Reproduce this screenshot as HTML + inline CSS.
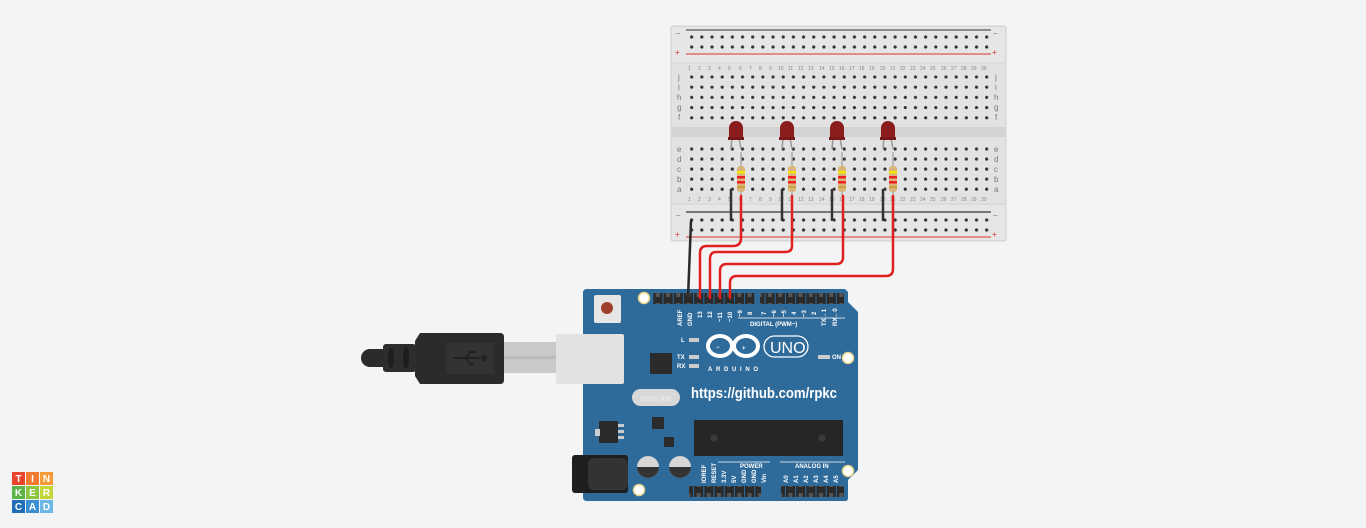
<!DOCTYPE html>
<html><head><meta charset="utf-8"><style>
html,body{margin:0;padding:0;background:#f3f4f6;width:1366px;height:528px;overflow:hidden}
svg{display:block}
.n{font:5px "Liberation Sans",sans-serif;fill:#888}
.l{font:8px "Liberation Sans",sans-serif;fill:#777}
.w{font:bold 6px "Liberation Sans",sans-serif;fill:#fff}
</style></head><body>
<svg width="1366" height="528" viewBox="0 0 1366 528" xmlns="http://www.w3.org/2000/svg">
<defs>
<pattern id="h" x="686.6" y="72" width="10.172" height="10.2" patternUnits="userSpaceOnUse">
<rect x="1.5" y="1.5" width="7" height="7" fill="#e4e4e4"/><circle cx="5.08" cy="5" r="1.6" fill="#333"/></pattern>
<pattern id="hb" x="686.6" y="144" width="10.172" height="10.05" patternUnits="userSpaceOnUse">
<rect x="1.5" y="1.5" width="7" height="7" fill="#e4e4e4"/><circle cx="5.08" cy="5" r="1.6" fill="#333"/></pattern>
<pattern id="hr" x="686.6" y="32" width="10.172" height="10" patternUnits="userSpaceOnUse">
<circle cx="5.08" cy="5" r="1.6" fill="#333"/></pattern>
<pattern id="hr2" x="686.6" y="215" width="10.172" height="10" patternUnits="userSpaceOnUse">
<circle cx="5.08" cy="5" r="1.6" fill="#333"/></pattern>
<pattern id="pin" x="0" y="0" width="10.2" height="10" patternUnits="userSpaceOnUse">
<rect x="0.5" y="0" width="9.2" height="10" fill="#2a2a2a"/><rect x="3" y="3" width="4" height="4" fill="#555"/></pattern>
</defs>

<!-- Breadboard -->
<rect x="671" y="26" width="335" height="215" rx="2" fill="#e2e2e2" stroke="#cfcfcf"/>
<rect x="672" y="27" width="333" height="36" fill="#e6e6e6"/>
<rect x="672" y="205" width="333" height="35" fill="#e6e6e6"/>
<line x1="672" y1="63" x2="1005" y2="63" stroke="#d4d4d4"/>
<line x1="672" y1="204" x2="1005" y2="204" stroke="#d4d4d4"/>
<rect x="672" y="127" width="333" height="10" fill="#d3d3d3"/>
<line x1="686" y1="30" x2="991" y2="30" stroke="#333" stroke-width="1"/>
<line x1="686" y1="54" x2="991" y2="54" stroke="#d33" stroke-width="1"/>
<line x1="686" y1="212" x2="991" y2="212" stroke="#777" stroke-width="2"/>
<line x1="686" y1="237" x2="991" y2="237" stroke="#d33" stroke-width="1"/>
<rect x="686.6" y="32" width="305" height="20" fill="url(#hr)"/>
<rect x="686.6" y="215" width="305" height="20" fill="url(#hr2)"/>
<rect x="686.6" y="72" width="305.2" height="51" fill="url(#h)"/>
<rect x="686.6" y="144" width="305.2" height="50.2" fill="url(#hb)"/>
<text x="676" y="36" class="l">−</text><text x="993" y="36" class="l">−</text>
<text x="675" y="55" class="l" style="fill:#c33">+</text><text x="992" y="55" class="l" style="fill:#c33">+</text>
<text x="676" y="218" class="l">−</text><text x="993" y="218" class="l">−</text>
<text x="675" y="237" class="l" style="fill:#c33">+</text><text x="992" y="237" class="l" style="fill:#c33">+</text>
<g class="l" font-size="7">
<text x="678" y="80">j</text><text x="678" y="90">i</text><text x="677" y="100">h</text><text x="677" y="110">g</text><text x="678" y="120">f</text>
<text x="677" y="152">e</text><text x="677" y="162">d</text><text x="677" y="172">c</text><text x="677" y="182">b</text><text x="677" y="192">a</text>
<text x="995" y="80">j</text><text x="995" y="90">i</text><text x="994" y="100">h</text><text x="994" y="110">g</text><text x="995" y="120">f</text>
<text x="994" y="152">e</text><text x="994" y="162">d</text><text x="994" y="172">c</text><text x="994" y="182">b</text><text x="994" y="192">a</text>
</g>
<g class="n">
<text x="688" y="70">1</text><text x="698" y="70">2</text><text x="708" y="70">3</text><text x="718" y="70">4</text><text x="728" y="70">5</text><text x="739" y="70">6</text><text x="749" y="70">7</text><text x="759" y="70">8</text><text x="769" y="70">9</text><text x="778" y="70">10</text><text x="788" y="70">11</text><text x="798" y="70">12</text><text x="808" y="70">13</text><text x="819" y="70">14</text><text x="829" y="70">15</text><text x="839" y="70">16</text><text x="849" y="70">17</text><text x="859" y="70">18</text><text x="869" y="70">19</text><text x="880" y="70">20</text><text x="890" y="70">21</text><text x="900" y="70">22</text><text x="910" y="70">23</text><text x="920" y="70">24</text><text x="930" y="70">25</text><text x="941" y="70">26</text><text x="951" y="70">27</text><text x="961" y="70">28</text><text x="971" y="70">29</text><text x="981" y="70">30</text>
<text x="688" y="201">1</text><text x="698" y="201">2</text><text x="708" y="201">3</text><text x="718" y="201">4</text><text x="728" y="201">5</text><text x="739" y="201">6</text><text x="749" y="201">7</text><text x="759" y="201">8</text><text x="769" y="201">9</text><text x="778" y="201">10</text><text x="788" y="201">11</text><text x="798" y="201">12</text><text x="808" y="201">13</text><text x="819" y="201">14</text><text x="829" y="201">15</text><text x="839" y="201">16</text><text x="849" y="201">17</text><text x="859" y="201">18</text><text x="869" y="201">19</text><text x="880" y="201">20</text><text x="890" y="201">21</text><text x="900" y="201">22</text><text x="910" y="201">23</text><text x="920" y="201">24</text><text x="930" y="201">25</text><text x="941" y="201">26</text><text x="951" y="201">27</text><text x="961" y="201">28</text><text x="971" y="201">29</text><text x="981" y="201">30</text>
</g>

<!-- LEDs, resistors, jumpers -->
<g id="leds">
<g transform="translate(0,0)">
<line x1="732" y1="138" x2="731" y2="149" stroke="#999" stroke-width="1.5"/><line x1="739" y1="138" x2="741" y2="149" stroke="#999" stroke-width="1.5"/>
<path d="M729,140 L729,128 A7,7 0 0 1 743,128 L743,140 Z" fill="#8b1d1d"/><rect x="728" y="137" width="16" height="3" fill="#7a1818"/>
<line x1="741" y1="152" x2="741" y2="196" stroke="#aaa" stroke-width="1.5"/>
<rect x="737" y="166" width="8" height="26" rx="3" fill="#d9b57a"/>
<rect x="737" y="171" width="8" height="2.5" fill="#f5e600"/><rect x="737" y="176" width="8" height="2.5" fill="#e22"/><rect x="737" y="181" width="8" height="2.5" fill="#e22"/><rect x="737" y="186" width="8" height="2" fill="#c8a040"/>
<line x1="731" y1="189" x2="731" y2="221" stroke="#333" stroke-width="2.5"/>
</g>
<g transform="translate(51,0)">
<line x1="732" y1="138" x2="731" y2="149" stroke="#999" stroke-width="1.5"/><line x1="739" y1="138" x2="741" y2="149" stroke="#999" stroke-width="1.5"/>
<path d="M729,140 L729,128 A7,7 0 0 1 743,128 L743,140 Z" fill="#8b1d1d"/><rect x="728" y="137" width="16" height="3" fill="#7a1818"/>
<line x1="741" y1="152" x2="741" y2="196" stroke="#aaa" stroke-width="1.5"/>
<rect x="737" y="166" width="8" height="26" rx="3" fill="#d9b57a"/>
<rect x="737" y="171" width="8" height="2.5" fill="#f5e600"/><rect x="737" y="176" width="8" height="2.5" fill="#e22"/><rect x="737" y="181" width="8" height="2.5" fill="#e22"/><rect x="737" y="186" width="8" height="2" fill="#c8a040"/>
<line x1="731" y1="189" x2="731" y2="221" stroke="#333" stroke-width="2.5"/>
</g>
<g transform="translate(101,0)">
<line x1="732" y1="138" x2="731" y2="149" stroke="#999" stroke-width="1.5"/><line x1="739" y1="138" x2="741" y2="149" stroke="#999" stroke-width="1.5"/>
<path d="M729,140 L729,128 A7,7 0 0 1 743,128 L743,140 Z" fill="#8b1d1d"/><rect x="728" y="137" width="16" height="3" fill="#7a1818"/>
<line x1="741" y1="152" x2="741" y2="196" stroke="#aaa" stroke-width="1.5"/>
<rect x="737" y="166" width="8" height="26" rx="3" fill="#d9b57a"/>
<rect x="737" y="171" width="8" height="2.5" fill="#f5e600"/><rect x="737" y="176" width="8" height="2.5" fill="#e22"/><rect x="737" y="181" width="8" height="2.5" fill="#e22"/><rect x="737" y="186" width="8" height="2" fill="#c8a040"/>
<line x1="731" y1="189" x2="731" y2="221" stroke="#333" stroke-width="2.5"/>
</g>
<g transform="translate(152,0)">
<line x1="732" y1="138" x2="731" y2="149" stroke="#999" stroke-width="1.5"/><line x1="739" y1="138" x2="741" y2="149" stroke="#999" stroke-width="1.5"/>
<path d="M729,140 L729,128 A7,7 0 0 1 743,128 L743,140 Z" fill="#8b1d1d"/><rect x="728" y="137" width="16" height="3" fill="#7a1818"/>
<line x1="741" y1="152" x2="741" y2="196" stroke="#aaa" stroke-width="1.5"/>
<rect x="737" y="166" width="8" height="26" rx="3" fill="#d9b57a"/>
<rect x="737" y="171" width="8" height="2.5" fill="#f5e600"/><rect x="737" y="176" width="8" height="2.5" fill="#e22"/><rect x="737" y="181" width="8" height="2.5" fill="#e22"/><rect x="737" y="186" width="8" height="2" fill="#c8a040"/>
<line x1="731" y1="189" x2="731" y2="221" stroke="#333" stroke-width="2.5"/>
</g>
</g>

<!-- Arduino board -->
<path d="M587,289 L845,289 L848,292 L848,302 L858,312 L858,470 L848,480 L848,498 Q848,501 845,501 L587,501 Q583,501 583,497 L583,293 Q583,289 587,289 Z" fill="#2e6a9a"/>
<rect x="653" y="293" width="102" height="11" fill="url(#pin)"/>
<rect x="760" y="293" width="84" height="11" fill="url(#pin)"/>
<rect x="689" y="486" width="72" height="11" fill="url(#pin)"/>
<rect x="781" y="486" width="63" height="11" fill="url(#pin)"/>
<circle cx="644" cy="298" r="5.5" fill="#fff" stroke="#e8d68a" stroke-width="1.5"/>
<circle cx="848" cy="358" r="5.5" fill="#fff" stroke="#e8d68a" stroke-width="1.5"/>
<circle cx="848" cy="471" r="5.5" fill="#fff" stroke="#e8d68a" stroke-width="1.5"/>
<circle cx="639" cy="490" r="5.5" fill="#fff" stroke="#e8d68a" stroke-width="1.5"/>
<rect x="594" y="295" width="27" height="28" rx="2" fill="#e6e6e6"/><circle cx="607" cy="308" r="6" fill="#a0402c"/>
<rect x="650" y="353" width="22" height="21" fill="#2b2b2b"/>
<rect x="652" y="417" width="12" height="12" fill="#2b2b2b"/>
<rect x="664" y="437" width="10" height="10" fill="#2b2b2b"/>
<rect x="599" y="421" width="19" height="22" fill="#2b2b2b"/><rect x="618" y="424" width="6" height="3" fill="#ccc"/><rect x="618" y="430" width="6" height="3" fill="#ccc"/><rect x="618" y="436" width="6" height="3" fill="#ccc"/><rect x="595" y="429" width="5" height="7" fill="#ccc"/>
<rect x="632" y="389" width="48" height="17" rx="8.5" fill="#d8d8d8"/><text x="640" y="401" style="font:7px 'Liberation Sans',sans-serif;fill:#eee">SP16.000</text>
<rect x="694" y="420" width="149" height="36" fill="#262626"/>
<circle cx="714" cy="438" r="3.5" fill="#3a3a3a"/><circle cx="822" cy="438" r="3.5" fill="#3a3a3a"/>
<rect x="572" y="455" width="56" height="38" rx="3" fill="#1e1e1e"/><rect x="588" y="458" width="40" height="32" rx="6" fill="#333"/>
<circle cx="648" cy="467" r="11" fill="#d7d7d7"/><path d="M637,467 A11,11 0 0 0 659,467 Z" fill="#333"/>
<circle cx="680" cy="467" r="11" fill="#d7d7d7"/><path d="M669,467 A11,11 0 0 0 691,467 Z" fill="#333"/>
<rect x="689" y="338" width="10" height="4" fill="#ccc"/><rect x="689" y="355" width="10" height="4" fill="#ccc"/><rect x="689" y="364" width="10" height="4" fill="#ccc"/>
<rect x="818" y="355" width="12" height="4" fill="#ccc"/>
<text x="681" y="342" class="w" font-size="5">L</text><text x="677" y="359" class="w" font-size="5">TX</text><text x="677" y="368" class="w" font-size="5">RX</text><text x="832" y="359" class="w" font-size="5">ON</text>
<!-- Arduino logo -->
<ellipse cx="720" cy="346" rx="12" ry="10" fill="none" stroke="#fff" stroke-width="4"/>
<ellipse cx="746" cy="346" rx="12" ry="10" fill="none" stroke="#fff" stroke-width="4"/>
<text x="716" y="349" class="w" font-size="9">−</text><text x="742" y="350" class="w" font-size="10">+</text>
<text x="708" y="371" class="w" font-size="8" textLength="50">ARDUINO</text>
<rect x="764" y="336" width="44" height="21" rx="10.5" fill="none" stroke="#fff" stroke-width="1.3"/>
<text x="770" y="353" style="font:16px 'Liberation Sans',sans-serif;fill:#fff">UNO</text>
<text x="691" y="398" textLength="146" lengthAdjust="spacingAndGlyphs" style="font:bold 15px 'Liberation Sans',sans-serif;fill:#fff">https://github.com/rpkc</text>
<text x="750" y="326" class="w" font-size="7">DIGITAL (PWM~)</text>
<line x1="738" y1="318" x2="845" y2="318" stroke="#fff" stroke-width="0.8"/>
<text x="740" y="468" class="w" font-size="7">POWER</text><text x="795" y="468" class="w" font-size="7">ANALOG IN</text>
<line x1="718" y1="462" x2="770" y2="462" stroke="#fff" stroke-width="0.8"/><line x1="780" y1="462" x2="845" y2="462" stroke="#fff" stroke-width="0.8"/>
<g class="w" font-size="5.5">
<text transform="translate(682,326) rotate(-90)">AREF</text><text transform="translate(692,326) rotate(-90)">GND</text>
<text transform="translate(702,318) rotate(-90)">13</text><text transform="translate(712,318) rotate(-90)">12</text>
<text transform="translate(722,322) rotate(-90)">~11</text><text transform="translate(732,322) rotate(-90)">~10</text>
<text transform="translate(742,317) rotate(-90)">~9</text><text transform="translate(752,315) rotate(-90)">8</text>
<text transform="translate(766,315) rotate(-90)">7</text><text transform="translate(776,317) rotate(-90)">~6</text><text transform="translate(786,317) rotate(-90)">~5</text><text transform="translate(796,315) rotate(-90)">4</text><text transform="translate(806,317) rotate(-90)">~3</text><text transform="translate(816,315) rotate(-90)">2</text><text transform="translate(826,326) rotate(-90)">TX→1</text><text transform="translate(837,326) rotate(-90)">RX←0</text>
<text transform="translate(706,483) rotate(-90)">IOREF</text><text transform="translate(716,483) rotate(-90)">RESET</text><text transform="translate(726,483) rotate(-90)">3.3V</text><text transform="translate(736,483) rotate(-90)">5V</text><text transform="translate(746,483) rotate(-90)">GND</text><text transform="translate(756,483) rotate(-90)">GND</text><text transform="translate(766,483) rotate(-90)">Vin</text>
<text transform="translate(788,483) rotate(-90)">A0</text><text transform="translate(798,483) rotate(-90)">A1</text><text transform="translate(808,483) rotate(-90)">A2</text><text transform="translate(818,483) rotate(-90)">A3</text><text transform="translate(828,483) rotate(-90)">A4</text><text transform="translate(838,483) rotate(-90)">A5</text>
</g>

<!-- USB port and cable -->
<rect x="556" y="334" width="68" height="50" rx="2" fill="#e2e2e2"/>
<rect x="504" y="342" width="52" height="31" fill="#c9c9c9"/>
<rect x="504" y="356" width="52" height="3" fill="#bbb"/>
<path d="M415,341 L420,333 L500,333 Q504,333 504,337 L504,380 Q504,384 500,384 L420,384 L415,376 Z" fill="#2b2b2b"/>
<rect x="446" y="343" width="48" height="31" fill="#333"/>
<path d="M453,358 L480,358 M466,358 L470,352 L476,352 M466,358 L470,364 L474,364" stroke="#222" stroke-width="2" fill="none"/><circle cx="484" cy="358" r="3" fill="#222"/>
<rect x="383" y="344" width="33" height="28" rx="3" fill="#2d2d2d"/>
<ellipse cx="391" cy="358" rx="3" ry="10" fill="#1e1e1e"/><ellipse cx="406" cy="358" rx="3" ry="11" fill="#1e1e1e"/>
<path d="M384,349 L370,349 A9,9 0 0 0 370,367 L384,367 Z" fill="#2b2b2b"/>

<!-- Wires -->
<g fill="none" stroke-linecap="round">
<path d="M691,221 L688,298" stroke="#2a2a2a" stroke-width="2.5"/>
<path d="M741,196 L741,238 Q741,246 733,246 L707,246 Q700,246 700,253 L700,298" stroke="#e0201e" stroke-width="2.5"/>
<path d="M792,196 L792,246 Q792,252 785,252 L716,252 Q710,252 710,259 L710,298" stroke="#e0201e" stroke-width="2.5"/>
<path d="M843,196 L843,257 Q843,264 836,264 L727,264 Q720,264 720,271 L720,298" stroke="#e0201e" stroke-width="2.5"/>
<path d="M893,196 L893,269 Q893,276 886,276 L737,276 Q730,276 730,283 L730,298" stroke="#e0201e" stroke-width="2.5"/>
</g>

<!-- Tinkercad logo -->
<g font-family="Liberation Sans, sans-serif" font-weight="bold" font-size="10" fill="#fff" text-anchor="middle">
<rect x="12" y="472" width="13" height="13" fill="#e8452c"/><rect x="26" y="472" width="13" height="13" fill="#f37a2f"/><rect x="40" y="472" width="13" height="13" fill="#f59b38"/>
<rect x="12" y="486" width="13" height="13" fill="#5db548"/><rect x="26" y="486" width="13" height="13" fill="#8cc63f"/><rect x="40" y="486" width="13" height="13" fill="#c4d53a"/>
<rect x="12" y="500" width="13" height="13" fill="#1f6db5"/><rect x="26" y="500" width="13" height="13" fill="#3b8ed0"/><rect x="40" y="500" width="13" height="13" fill="#6cb7e6"/>
<text x="18.5" y="482">T</text><text x="32.5" y="482">I</text><text x="46.5" y="482">N</text>
<text x="18.5" y="496">K</text><text x="32.5" y="496">E</text><text x="46.5" y="496">R</text>
<text x="18.5" y="510">C</text><text x="32.5" y="510">A</text><text x="46.5" y="510">D</text>
</g>
</svg>
</body></html>
